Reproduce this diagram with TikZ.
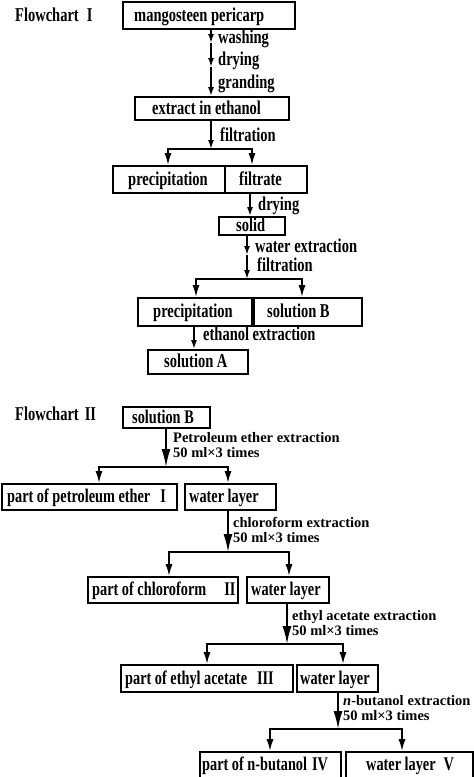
\documentclass[tikz,border=0pt]{standalone}
\usepackage{fontspec}
\usepackage{graphicx}
\setmainfont{Liberation Serif}
\usetikzlibrary{arrows.meta}
\newcommand\tall[1]{\scalebox{1}[1.35]{#1}}
\tikzset{
  box/.style={draw, line width=1.8pt, inner sep=0pt},
  txt/.style={inner sep=0pt, text height=0.9em, text depth=0.3em, anchor=west},
  one/.style={txt, font=\bfseries\fontsize{14.5}{16}\selectfont},
  two/.style={txt, font=\bfseries\fontsize{14.3}{16}\selectfont},
  lab2/.style={inner sep=0pt, anchor=north west, align=left,
    font={\bfseries\fontsize{14.5}{15}\selectfont}},
  ln/.style={line width=1.7pt},
  sarr/.style={ln, -{Latex[length=9pt,width=6pt]}},
  barr/.style={ln, -{Latex[length=12pt,width=7pt]}},
  larr/.style={ln, -{Latex[length=18pt,width=9pt]}},
}
\newcommand\bx[8]{%
  \node[box, minimum width={(#4-#2)*1pt}, minimum height={(#5-#3)*1pt}] (#1) at ({(#2+#4)/2},{(#3+#5)/2}) {};
  \node[#7] (#1t) at (#6,{(#3+#5)/2+2.5}) {\tall{#8}};}
\begin{document}
\begin{tikzpicture}[x=1pt,y=-1pt]
\useasboundingbox (0,0) rectangle (474,777);
\fill[white] (0,0) rectangle (474,777);
\clip (0,0) rectangle (474,777);
% ---------------- Flowchart I ----------------
\node[one] (fc1) at (15,18) {\tall{Flowchart\hspace{8pt}I}};
\bx{a1}{123}{2}{295}{29}{134}{one}{mangosteen pericarp}
\bx{a2}{135}{97}{289}{120}{152}{one}{extract in ethanol}
\bx{a3}{113}{166}{225}{193}{128}{one}{precipitation}
\bx{a4}{225}{166}{307}{193}{239}{one}{filtrate}
\bx{a5}{219}{217}{285}{235}{236}{one}{solid}
\bx{a6}{138}{298}{252}{326}{153}{one}{precipitation}
\bx{a7}{254}{298}{362}{326}{267}{one}{solution B}
\bx{a8}{148}{350}{248}{374}{164}{one}{solution A}

\coordinate (c1) at (211,43);
\coordinate (c2) at (211,67);
\draw[sarr] (a1.south -| c1) -- (c1);
\draw[sarr] (c1) -- (c2);
\draw[sarr] (c2) -- (a2.north -| c2);
\node[one] (l1) at (218,40) {\tall{washing}};
\node[one] (l2) at (218,62) {\tall{drying}};
\node[one] (l3) at (218,85) {\tall{granding}};

\coordinate (j1) at (211,149);
\coordinate (j1l) at (168,149);
\coordinate (j1r) at (252,149);
\draw[sarr] (a2.south -| j1) -- (j1);
\draw[barr] (j1) -| (a3.north -| j1l);
\draw[barr] (j1) -| (a4.north -| j1r);
\node[one] (l4) at (220,138) {\tall{filtration}};

\coordinate (c3) at (250,205);
\draw[sarr] (a4.south -| c3) -- (a5.north -| c3);
\node[one] (l5) at (258,207) {\tall{drying}};

\coordinate (c4) at (247,255);
\coordinate (j2) at (247,279);
\coordinate (j2l) at (196,279);
\coordinate (j2r) at (302,279);
\draw[sarr] (a5.south -| c4) -- (c4);
\draw[sarr] (c4) -- (j2);
\draw[barr] (j2) -| (a6.north -| j2l);
\draw[barr] (j2) -| (a7.north -| j2r);
\node[one] (l6) at (255,249) {\tall{water extraction}};
\node[one] (l7) at (257,268) {\tall{filtration}};

\coordinate (c5) at (194,337);
\draw[sarr] (a6.south -| c5) -- (a8.north -| c5);
\node[one] (l8) at (203,337) {\tall{ethanol extraction}};

% ---------------- Flowchart II ----------------
\node[one] (fc2) at (15,417) {\tall{Flowchart\hspace{6pt}II}};
\bx{b1}{123}{407}{210}{428}{132}{two}{solution B}
\bx{b2}{2}{484}{177}{510}{7}{two}{part of petroleum ether\hspace{10pt}I}
\bx{b3}{185}{484}{276}{510}{189}{two}{water layer}
\bx{b4}{88}{577}{238}{603}{92}{two}{part of chloroform\hspace{18pt}II}
\bx{b5}{247}{577}{329}{603}{251}{two}{water layer}
\bx{b6}{121}{665}{293}{692}{125}{two}{part of ethyl acetate\hspace{10pt}III}
\bx{b7}{297}{665}{378}{692}{300}{two}{water layer}
\bx{b8}{200}{752}{341}{778}{202}{two}{part of n-butanol\hspace{5pt}IV}
\bx{b9}{346}{752}{473}{778}{366}{two}{water layer\hspace{8pt}V}

\coordinate (j3) at (166,467);
\coordinate (j3l) at (99,467);
\coordinate (j3r) at (228,467);
\draw[larr] (b1.south -| j3) -- (j3);
\draw[barr] (j3) -| (b2.north -| j3l);
\draw[barr] (j3) -| (b3.north -| j3r);
\node[lab2] (m1) at (173,432.5) {Petroleum ether extraction\\50 ml×3 times};

\coordinate (j4) at (228,552);
\coordinate (j4l) at (169,552);
\coordinate (j4r) at (289,552);
\draw[larr] (b3.south -| j4) -- (j4);
\draw[barr] (j4) -| (b4.north -| j4l);
\draw[barr] (j4) -| (b5.north -| j4r);
\node[lab2] (m2) at (233,517.5) {chloroform extraction\\50 ml×3 times};

\coordinate (j5) at (287,644);
\coordinate (j5l) at (207,644);
\coordinate (j5r) at (343,644);
\draw[larr] (b5.south -| j5) -- (j5);
\draw[barr] (j5) -| (b6.north -| j5l);
\draw[barr] (j5) -| (b7.north -| j5r);
\node[lab2] (m3) at (292,610.5) {ethyl acetate extraction\\50 ml×3 times};

\coordinate (j6) at (338,729);
\coordinate (j6l) at (270,729);
\coordinate (j6r) at (402,729);
\draw[larr] (b7.south -| j6) -- (j6);
\draw[barr] (j6) -| (b8.north -| j6l);
\draw[barr] (j6) -| (b9.north -| j6r);
\node[lab2] (m4) at (343,695.5) {\textit{n}-butanol\hspace{4pt}extraction\\50 ml×3 times};
\end{tikzpicture}
\end{document}
